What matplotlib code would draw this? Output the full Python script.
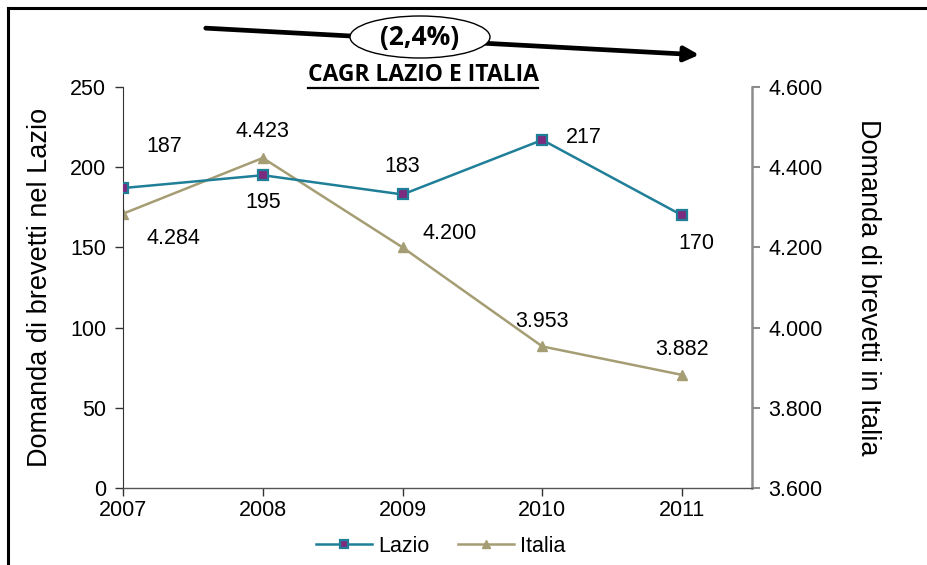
import matplotlib
matplotlib.use("Agg")
import matplotlib.pyplot as plt
from matplotlib.patches import Ellipse, FancyArrowPatch
from matplotlib.lines import Line2D

plt.rcParams["font.family"] = ["Liberation Sans", "DejaVu Sans"]

years = ["2007", "2008", "2009", "2010", "2011"]
lazio = [187, 195, 183, 217, 170]
italia = [4284, 4423, 4200, 3953, 3882]
lazio_labels = ["187", "195", "183", "217", "170"]
italia_labels = ["4.284", "4.423", "4.200", "3.953", "3.882"]
left_ticks = [0, 50, 100, 150, 200, 250]
right_ticks = [3600, 3800, 4000, 4200, 4400, 4600]
right_tick_labels = ["3.600", "3.800", "4.000", "4.200", "4.400", "4.600"]
cagr_text = "(2,4%)"
title_text = "CAGR LAZIO E ITALIA"

c_lazio = "#1f7f98"
c_lazio_fill = "#7b2c7e"
c_italia = "#a59d73"

W, H = 928, 565
fig = plt.figure(figsize=(W / 100, H / 100), dpi=100)
ax = fig.add_axes([123 / W, 1 - 488 / H, (752 - 123) / W, (488 - 87) / H])
ax2 = ax.twinx()

x = list(range(len(years)))
ax.plot(x, lazio, color=c_lazio, lw=1.8, marker="s", ms=6.5,
        mfc=c_lazio_fill, mec=c_lazio, mew=1.6, zorder=4, label="Lazio")
ax2.plot(x, italia, color=c_italia, lw=1.8, marker="^", ms=7,
         mfc=c_italia, mec=c_italia, zorder=3, label="Italia")
ax.set_zorder(ax2.get_zorder() + 1)
ax.patch.set_visible(False)

ax.set_xlim(0, 4.5)
ax.set_ylim(0, 250)
ax2.set_ylim(3600, 4600)
ax.set_xticks(x)
ax.set_xticklabels(years)
ax.set_yticks(left_ticks)
ax2.set_yticks(right_ticks)
ax2.set_yticklabels(right_tick_labels)

fs_tick = 15.5
ax.tick_params(axis="both", labelsize=fs_tick, direction="out", length=6,
               width=1.0, color="#333333", pad=6)
ax.tick_params(axis="x", pad=3)
ax2.tick_params(axis="y", labelsize=fs_tick, direction="out", length=6,
                width=1.5, color="#8c8c8c", pad=6)

for s in ["top"]:
    ax.spines[s].set_visible(False)
    ax2.spines[s].set_visible(False)
ax.spines["right"].set_visible(False)
ax2.spines["left"].set_visible(False)
ax2.spines["bottom"].set_visible(False)
ax.spines["left"].set_color("#333333")
ax.spines["bottom"].set_color("#555555")
ax.spines["bottom"].set_linewidth(1.0)
ax2.spines["right"].set_color("#8c8c8c")
ax2.spines["right"].set_linewidth(1.8)

ax.set_ylabel("Domanda di brevetti nel Lazio", fontsize=19.5, labelpad=12)
ax2.set_ylabel("Domanda di brevetti in Italia", fontsize=19.5, rotation=-90,
               labelpad=42)

# value labels: offsets in points relative to each marker
lazio_off = [(30, 30), (0, -20), (0, 20), (30, 2), (10, -20)]
italia_off = [(36, -18), (0, 19), (34, 10), (0, 18), (0, 18)]
for i, (v, t) in enumerate(zip(lazio, lazio_labels)):
    ax.annotate(t, (i, v), xytext=lazio_off[i], textcoords="offset points",
                ha="center", va="center", fontsize=fs_tick)
for i, (v, t) in enumerate(zip(italia, italia_labels)):
    ax2.annotate(t, (i, v), xytext=italia_off[i], textcoords="offset points",
                 ha="center", va="center", fontsize=fs_tick)

# legend
h1, l1 = ax.get_legend_handles_labels()
h2, l2 = ax2.get_legend_handles_labels()
fig.legend(h1 + h2, l1 + l2, loc="center", bbox_to_anchor=(441 / W, 1 - 546 / H),
           ncol=2, frameon=False, fontsize=fs_tick, handlelength=2.6,
           columnspacing=1.3, handletextpad=0.3, markerscale=0.8)

# CAGR arrow with ellipse label
arrow = FancyArrowPatch((203 / W, 1 - 28 / H), (702 / W, 1 - 55 / H),
                        transform=fig.transFigure, arrowstyle="-|>",
                        mutation_scale=22, lw=3.4, color="black", zorder=5)
fig.patches.append(arrow)
ell = Ellipse((420 / W, 1 - 37 / H), 140 / W, 42 / H, transform=fig.transFigure,
              facecolor="white", edgecolor="black", lw=1.0, zorder=6)
fig.patches.append(ell)
fig.text(420 / W, 1 - 37 / H, cagr_text, ha="center", va="center",
         fontsize=19, fontweight="bold", family=["Open Sans", "DejaVu Sans"],
         zorder=7)
title = fig.text(423 / W, 1 - 75 / H, title_text, ha="center", va="center",
                 fontsize=16.5, fontweight="bold",
                 family=["Open Sans", "DejaVu Sans"], zorder=7)

# underline the title
fig.canvas.draw()
bb = title.get_window_extent().transformed(fig.transFigure.inverted())
fig.add_artist(Line2D([bb.x0, bb.x1], [bb.y0 - 0.002, bb.y0 - 0.002],
                      transform=fig.transFigure, color="black", lw=1.6))

# outer frame (top and left edges)
fig.add_artist(Line2D([8 / W, 1], [1 - 8 / H, 1 - 8 / H], transform=fig.transFigure,
                      color="black", lw=2.2))
fig.add_artist(Line2D([8 / W, 8 / W], [0, 1 - 8 / H], transform=fig.transFigure,
                      color="black", lw=2.2))

fig.savefig("out.png", dpi=100)
